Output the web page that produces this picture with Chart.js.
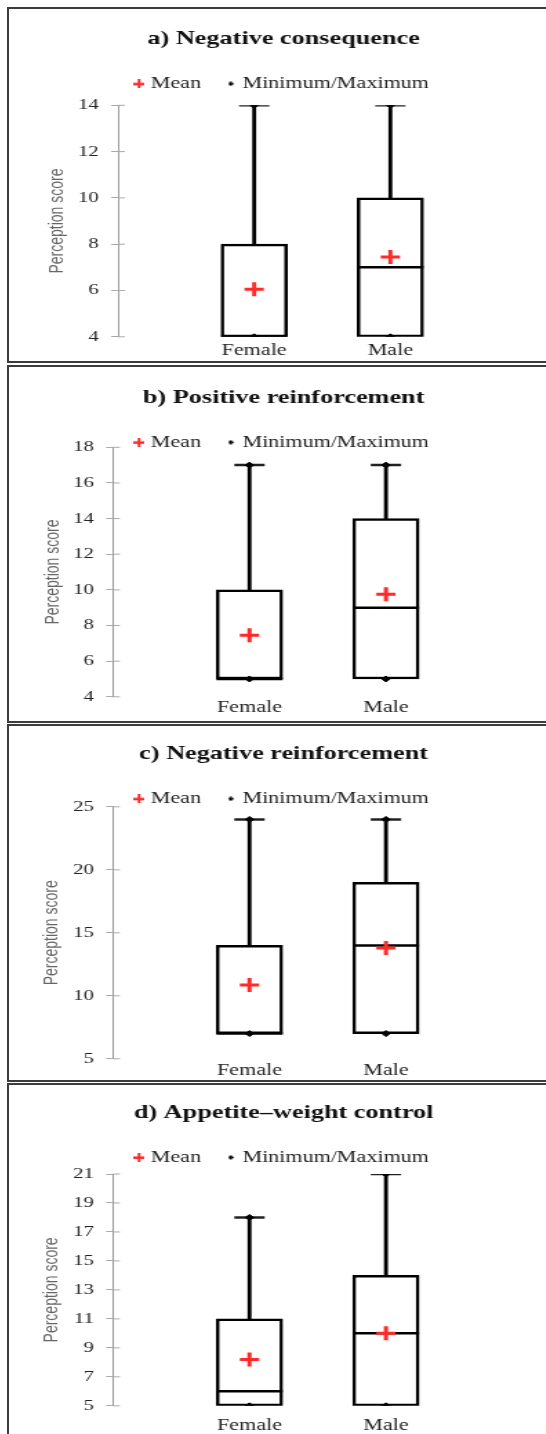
<!DOCTYPE html>
<html>
<head>
<meta charset="utf-8">
<script src="https://cdn.jsdelivr.net/npm/chart.js@4.4.1/dist/chart.umd.min.js"></script>
<style>
  html, body { margin: 0; padding: 0; background: #fff; overflow: hidden; }
  body { width: 546px; height: 1434px; position: relative; }
  .panel { position: absolute; left: 7px; width: 560px; border: 2px solid #3c3c3c; border-right: none; box-sizing: border-box; }
  .stretch { position: absolute; left: 0; top: 0; transform: scaleX(1.38); transform-origin: 0 0; }
</style>
</head>
<body>
<script>
    // ---------------- Data ----------------
    const categories = ['Female', 'Male'];
    const panelTitles = [
        'a) Negative consequence',
        'b) Positive reinforcement',
        'c) Negative reinforcement',
        'd) Appetite\u2013weight control'
    ];
    const yTitle = 'Perception score';
    const yMin = [4, 4, 5, 5];
    const yMax = [14, 18, 25, 21];
    const yStep = [2, 2, 5, 2];

    // per panel: [Female, Male]
    const minimum       = [[4, 4], [5, 5], [7, 7], [5, 5]];
    const lowerQuartile = [[4, 4], [5, 5], [7, 7], [5, 5]];
    const median        = [[4, 7], [5, 9], [7, 14], [6, 10]];
    const upperQuartile = [[8, 10], [10, 14], [14, 19], [11, 14]];
    const maximum       = [[14, 14], [17, 17], [24, 24], [18, 21]];
    const mean          = [[6.05, 7.45], [7.45, 9.75], [10.85, 13.8], [8.2, 10]];

    // ---------------- Layout of each panel ----------------
    const layouts = [
        { top: 7,    h: 356, w: 379, canvasH: 355, padLeft: 19, axisX: 79,   titleTop: 19,   legendExtra: 3.5,  yTitlePad: 9,   xPad: 4 },
        { top: 365,  h: 358, w: 373, canvasH: 351, padLeft: 25, axisX: 75.4, titleTop: 19.5, legendExtra: -13,  yTitlePad: 0.5, xPad: 1 },
        { top: 724,  h: 358, w: 374, canvasH: 356, padLeft: 24, axisX: 75.4, titleTop: 17,   legendExtra: -10,  yTitlePad: 0,   xPad: 2 },
        { top: 1083, h: 420, w: 382, canvasH: 360, padLeft: 16, axisX: 75.4, titleTop: 16.6, legendExtra: -1.4, yTitlePad: 8,   xPad: 10 }
    ];

    const serif = "'Liberation Serif', 'Times New Roman', serif";
    const red = '#ff2a2a';
    const labels = ['', ...categories, ''];
    const pad = arr => [null, ...arr, null];

    // small legend symbols
    function symbol(w, h, draw) {
        const c = document.createElement('canvas');
        c.width = w; c.height = h;
        draw(c.getContext('2d'));
        return c;
    }
    const plusIcon = symbol(8, 9, g => {
        g.fillStyle = red;
        g.fillRect(0, 3.5, 8, 2.5);
        g.fillRect(3, 0, 2, 9);
    });
    const diamondIcon = symbol(4, 5, g => {
        g.fillStyle = '#000';
        g.beginPath();
        g.moveTo(2, 0); g.lineTo(4, 2.5); g.lineTo(2, 5); g.lineTo(0, 2.5);
        g.closePath();
        g.fill();
    });

    // ---------------- Helper plugins ----------------
    // tick marks also reach into the plot, as in the original
    const innerTicks = {
        id: 'innerTicks',
        afterDatasetsDraw(chart) {
            const y = chart.scales.y, left = chart.chartArea.left, ctx = chart.ctx;
            ctx.save();
            ctx.strokeStyle = '#aaa';
            ctx.lineWidth = 1;
            y.ticks.forEach(t => {
                const py = y.getPixelForValue(t.value);
                ctx.beginPath();
                ctx.moveTo(left, py);
                ctx.lineTo(left + 5, py);
                ctx.stroke();
            });
            ctx.restore();
        }
    };

    // extra (or less) room between legend and plot
    const legendGap = {
        id: 'legendGap',
        beforeLayout(chart, args, opts) {
            const legend = chart.legend;
            if (!legend || legend._gapPatched) return;
            const fit = legend.fit;
            legend.fit = function () { fit.call(this); this.height += opts.extra; };
            legend._gapPatched = true;
        }
    };

    // ---------------- Charts ----------------
    layouts.forEach((L, i) => {
        const panel = document.createElement('div');
        panel.className = 'panel';
        panel.style.top = L.top + 'px';
        panel.style.height = L.h + 'px';
        const wrap = document.createElement('div');
        wrap.className = 'stretch';
        const canvas = document.createElement('canvas');
        canvas.width = L.w;
        canvas.height = L.canvasH;
        wrap.appendChild(canvas);
        panel.appendChild(wrap);
        document.body.appendChild(panel);

        const minMaxPoints = categories.flatMap((c, k) => [
            { x: c, y: minimum[i][k] },
            { x: c, y: maximum[i][k] }
        ]);
        const boxes = categories.map((c, k) => [lowerQuartile[i][k], upperQuartile[i][k]]);
        const whiskers = categories.map((c, k) => [upperQuartile[i][k], maximum[i][k]]);

        new Chart(canvas, {
            type: 'bar',
            data: {
                labels: labels,
                datasets: [
                    {
                        type: 'line', label: 'Mean', data: pad(mean[i]), showLine: false,
                        pointStyle: 'cross', pointRadius: 7, pointBorderWidth: 3, borderWidth: 3,
                        borderColor: red, pointBorderColor: red, backgroundColor: red, order: 1
                    },
                    {
                        type: 'line', label: 'Minimum/Maximum', data: minMaxPoints, showLine: false,
                        pointStyle: 'rectRot', pointRadius: 3, borderWidth: 1,
                        borderColor: '#000', backgroundColor: '#000', order: 2
                    },
                    {
                        type: 'line', data: pad(median[i]), showLine: false,
                        pointStyle: 'line', pointRadius: 24, pointBorderWidth: 2.5, borderColor: '#000', order: 3
                    },
                    {
                        type: 'line', data: pad(maximum[i]), showLine: false,
                        pointStyle: 'line', pointRadius: 11, pointBorderWidth: 2.5, borderColor: '#222', order: 4
                    },
                    {
                        type: 'bar', data: pad(boxes), backgroundColor: '#fff', borderColor: '#000',
                        borderWidth: 2.5, borderSkipped: false, barThickness: 48, grouped: false, order: 5
                    },
                    {
                        type: 'bar', data: pad(whiskers), backgroundColor: '#000', borderWidth: 0,
                        barThickness: 2.2, grouped: false, order: 6
                    }
                ]
            },
            options: {
                responsive: false,
                animation: false,
                devicePixelRatio: 1,
                layout: { autoPadding: false, padding: { left: L.padLeft, right: 0, top: 0, bottom: 0 } },
                scales: {
                    x: {
                        type: 'category',
                        offset: false,
                        grid: { display: false, drawTicks: false },
                        border: { display: false },
                        ticks: { padding: L.xPad, font: { family: serif, size: 16 }, color: '#222', autoSkip: false, maxRotation: 0 }
                    },
                    y: {
                        min: yMin[i], max: yMax[i],
                        ticks: { stepSize: yStep[i], padding: 9, font: { family: serif, size: 15 }, color: '#222' },
                        grid: { drawOnChartArea: false, tickLength: 5, color: '#aaa' },
                        border: { color: '#999' },
                        title: {
                            display: true, text: yTitle, color: '#666', padding: L.yTitlePad,
                            font: { family: "'Liberation Sans', Arial, sans-serif", size: 14, lineHeight: 1 }
                        },
                        afterFit: s => { s.width = L.axisX - L.padLeft; }
                    }
                },
                plugins: {
                    title: {
                        display: true, text: panelTitles[i], color: '#111',
                        font: { family: serif, size: 19, weight: 'bold' },
                        padding: { top: L.titleTop, bottom: 4 }
                    },
                    legend: {
                        display: true, position: 'top',
                        labels: {
                            usePointStyle: true, boxWidth: 1, boxHeight: 4, padding: 21,
                            font: { family: serif, size: 16 }, color: '#222',
                            filter: item => !!item.text,
                            generateLabels: chart => {
                                const items = Chart.defaults.plugins.legend.labels.generateLabels(chart);
                                items.forEach(it => {
                                    if (it.text === 'Mean') it.pointStyle = plusIcon;
                                    if (it.text === 'Minimum/Maximum') it.pointStyle = diamondIcon;
                                });
                                return items;
                            }
                        }
                    },
                    legendGap: { extra: L.legendExtra },
                    tooltip: { enabled: false }
                }
            },
            plugins: [innerTicks, legendGap]
        });
    });
</script>
</body>
</html>
